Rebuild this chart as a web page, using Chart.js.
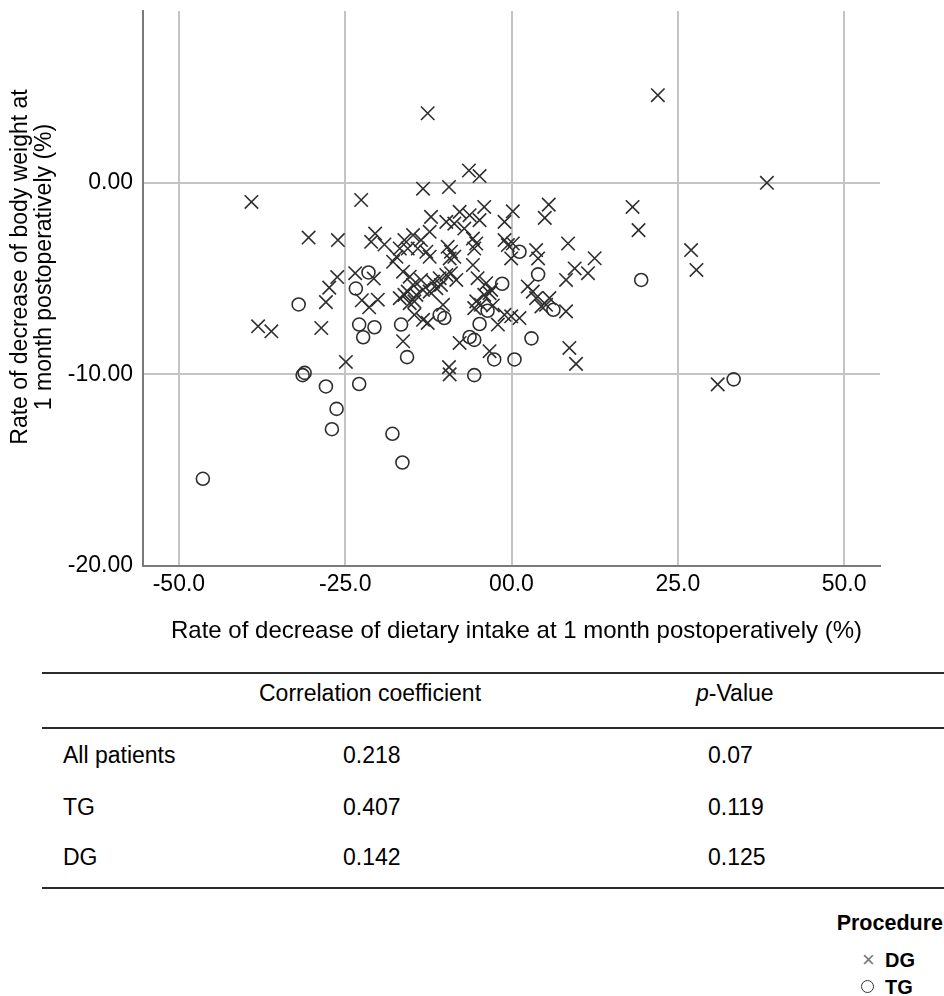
<!DOCTYPE html>
<html><head><meta charset="utf-8">
<script src="https://cdn.jsdelivr.net/npm/chart.js@4.4.1/dist/chart.umd.min.js"></script>
<style>
html,body{margin:0;padding:0;background:#fff;width:944px;height:996px;overflow:hidden;font-family:"Liberation Sans",Arial,sans-serif;color:#000;}
#wrap{position:absolute;left:0;top:0;width:944px;height:660px;}
.abs{position:absolute;white-space:nowrap;}
.rule{position:absolute;left:42px;width:902px;height:2px;background:#2b2b2b;}
.cell{position:absolute;font-size:23px;line-height:30px;height:30px;white-space:nowrap;}
#legend .t{font-weight:bold;}
</style></head><body>
<div id="wrap"><canvas id="c" width="944" height="660"></canvas></div>
<div id="table"></div>
<div id="legend"></div>
<script>
// ---- data ----
const xTickValues = [-50, -25, 0, 25, 50];
const xTickLabels = ["-50.0", "-25.0", "00.0", "25.0", "50.0"];
const yTickValues = [-20, -10, 0];
const yTickLabels = ["-20.00", "-10.00", "0.00"];
const xTitle = "Rate of decrease of dietary intake at 1 month postoperatively (%)";
const yTitleLines = ["Rate of decrease of body weight at", "1 month postoperatively (%)"];

const dgIntake = [-39.1,-22.6,-30.5,-26.1,-20.5,-21.1,-19.1,-26.2,-27.4,-23.5,-20.7,-27.9,-22.5,-21.4,-20.1,-17.8,-38.1,-36.1,-28.6,-24.9,
 -12.6,-6.4,-4.8,-13.3,-9.4,5.6,5.0,0.2,-1.05,-4.1,-4.8,-7.8,-6.3,-8.6,-7.1,-9.8,-12.1,-12.3,-14.8,-13.6,
 -16.1,-16.8,-15.6,-14.1,-12.8,-12.3,-9.6,-9.1,-8.6,-9.3,-5.8,-5.3,-5.6,-1.05,-0.55,0.2,-0.05,3.7,4.0,-17.3,
 -5.8,-16.3,-15.3,-14.8,-13.6,-15.6,-16.1,-14.3,-13.3,-11.8,-10.8,-9.8,-9.1,-8.3,-12.3,-11.3,-10.6,-16.8,-15.3,-14.6,
 -5.1,-3.8,-3.05,-4.1,-5.3,-5.6,-4.6,-3.3,-2.05,-1.05,-0.05,1.2,2.45,3.2,3.7,5.7,5.2,4.5,-3.3,-9.4,
 -9.3,-7.8,-16.3,-14.6,-13.3,-12.6,-10.3,8.2,8.7,9.7,31.0,22.0,38.4,18.2,19.1,27.0,27.8,8.5,12.5,9.5,
 11.5,8.2,-2.8];
const dgWeight = [-1.0,-0.9,-2.86,-2.99,-2.65,-3.08,-3.22,-4.92,-5.47,-4.72,-5.0,-6.23,-6.13,-6.5,-6.1,-4.12,-7.49,-7.75,-7.58,-9.35,
 3.63,0.64,0.35,-0.31,-0.22,-1.14,-1.83,-1.49,-2.04,-1.26,-1.95,-1.52,-1.69,-2.13,-2.39,-2.04,-1.78,-2.56,-2.73,-2.99,
 -2.99,-3.43,-3.43,-3.43,-3.6,-3.86,-3.34,-3.6,-3.86,-3.95,-2.91,-3.17,-3.43,-2.99,-3.25,-3.17,-3.95,-3.51,-3.95,-3.86,
 -4.29,-4.64,-4.9,-5.33,-5.07,-5.68,-5.85,-5.85,-5.59,-5.16,-4.98,-4.81,-4.72,-5.07,-5.68,-5.5,-5.33,-6.02,-6.28,-6.19,
 -4.98,-5.24,-5.59,-5.85,-6.19,-6.54,-6.37,-5.76,-7.4,-6.89,-6.97,-7.06,-5.41,-5.68,-6.02,-6.02,-6.37,-6.45,-8.79,-9.62,
 -10.0,-8.36,-8.27,-6.89,-7.15,-7.31,-6.37,-6.71,-8.62,-9.45,-10.52,4.57,0.0,-1.26,-2.47,-3.51,-4.55,-3.17,-3.94,-4.47,
 -4.72,-5.07,-6.4];

const tgIntake = [-21.5,-23.4,-32.0,-22.9,-20.6,-22.3,-31.4,-31.1,-27.9,-22.9,-26.3,-27.0,-17.9,-16.4,-46.4,-16.6,-15.7,
 -10.8,-10.1,-5.6,-3.6,-4.8,-6.3,-5.6,-2.6,0.45,3.0,6.3,1.2,4.0,-1.4,19.5,33.4];
const tgWeight = [-4.68,-5.52,-6.35,-7.4,-7.54,-8.06,-10.04,-9.92,-10.63,-10.5,-11.8,-12.86,-13.1,-14.6,-15.45,-7.4,-9.1,
 -6.89,-7.06,-10.04,-6.68,-7.37,-8.05,-8.2,-9.22,-9.22,-8.12,-6.63,-3.6,-4.78,-5.27,-5.07,-10.26];

const legendTitle = "Procedure";
const seriesNames = ["DG", "TG"];

const tableHeaders = ["Correlation coefficient", "p-Value"];
const rowLabels = ["All patients", "TG", "DG"];
const corrCoef = ["0.218", "0.407", "0.142"];
const pValues = ["0.07", "0.119", "0.125"];

// ---- chart ----
const FONT = '"Liberation Sans", Arial, sans-serif';
const toPts = (xs, ys) => xs.map((x, i) => ({x: x, y: ys[i]}));

const axisTitles = {
  id: 'axisTitles',
  afterDraw(chart) {
    const ctx = chart.ctx, ca = chart.chartArea;
    ctx.save();
    ctx.fillStyle = '#000';
    ctx.textAlign = 'center';
    ctx.textBaseline = 'middle';
    ctx.font = '24px ' + FONT;
    ctx.fillText(xTitle, (ca.left + ca.right) / 2 + 5, 631);
    ctx.font = '23px ' + FONT;
    ctx.translate(21, 267);
    ctx.rotate(-Math.PI / 2);
    ctx.fillText(yTitleLines[0], 0, 0);
    ctx.fillText(yTitleLines[1], 0, 24);
    ctx.restore();
  }
};

new Chart(document.getElementById('c'), {
  type: 'scatter',
  data: {
    datasets: [
      {label: seriesNames[0], data: toPts(dgIntake, dgWeight), pointStyle: 'crossRot', pointRadius: 9.5,
       borderColor: '#2e2e2e', backgroundColor: 'rgba(0,0,0,0)', pointBorderWidth: 1.6},
      {label: seriesNames[1], data: toPts(tgIntake, tgWeight), pointStyle: 'circle', pointRadius: 6.5,
       borderColor: '#2e2e2e', backgroundColor: 'rgba(0,0,0,0)', pointBorderWidth: 1.6}
    ]
  },
  options: {
    responsive: false, animation: false, devicePixelRatio: 1,
    layout: {padding: {top: 8, right: 64, left: 0, bottom: 0}},
    plugins: {legend: {display: false}, tooltip: {enabled: false}},
    scales: {
      x: {
        type: 'linear', min: -55.4, max: 55.4,
        afterBuildTicks: s => { s.ticks = xTickValues.map(v => ({value: v})); },
        afterFit: s => { s.height = 94; s.paddingLeft = 0; s.paddingRight = 0; },
        ticks: {callback: (v, i) => xTickLabels[i], color: '#000', font: {size: 23, family: FONT}, padding: 5, maxRotation: 0, autoSkip: false},
        grid: {color: '#c4c4c4', lineWidth: 2, drawTicks: false},
        border: {display: true, color: '#7a7a7a', width: 2}
      },
      y: {
        type: 'linear', min: -20, max: 8.96,
        afterBuildTicks: s => { s.ticks = yTickValues.map(v => ({value: v})); },
        afterFit: s => { s.width = 143; s.paddingTop = 0; s.paddingBottom = 0; },
        ticks: {callback: (v, i) => yTickLabels[i], color: '#000', font: {size: 23, family: FONT}, padding: 10, autoSkip: false},
        grid: {color: '#c4c4c4', lineWidth: 2, drawTicks: false},
        border: {display: true, color: '#7a7a7a', width: 2}
      }
    }
  },
  plugins: [axisTitles]
});

// ---- table ----
(function () {
  const t = document.getElementById('table');
  let h = '';
  [671.5, 727, 886.5].forEach(y => { h += '<div class="rule" style="top:' + y + 'px"></div>'; });
  const hdrY = 693;
  h += '<div class="cell" style="left:259px;top:' + (hdrY - 15) + 'px">' + tableHeaders[0] + '</div>';
  h += '<div class="cell" style="left:696px;top:' + (hdrY - 15) + 'px"><i>' + tableHeaders[1].split('-')[0] + '</i>-' + tableHeaders[1].split('-').slice(1).join('-') + '</div>';
  const rowY = [755, 806.5, 856.5];
  rowLabels.forEach((lab, i) => {
    h += '<div class="cell" style="left:63px;top:' + (rowY[i] - 15) + 'px">' + lab + '</div>';
    h += '<div class="cell" style="left:343px;top:' + (rowY[i] - 15) + 'px">' + corrCoef[i] + '</div>';
    h += '<div class="cell" style="left:708px;top:' + (rowY[i] - 15) + 'px">' + pValues[i] + '</div>';
  });
  t.innerHTML = h;
})();

// ---- legend ----
(function () {
  const l = document.getElementById('legend');
  let h = '';
  h += '<div class="abs t" style="right:1px;top:910px;font-size:21.5px;line-height:26px;">' + legendTitle + '</div>';
  h += '<div class="abs" style="left:862px;top:948px;font-size:22px;line-height:24px;color:#777;">&#215;</div>';
  h += '<div class="abs t" style="left:885px;top:948px;font-size:20px;line-height:24px;">' + seriesNames[0] + '</div>';
  h += '<div class="abs" style="left:861px;top:980px;width:11px;height:11px;border:1.6px solid #333;border-radius:50%;"></div>';
  h += '<div class="abs t" style="left:885px;top:975px;font-size:20px;line-height:24px;">' + seriesNames[1] + '</div>';
  l.innerHTML = h;
})();
</script>
</body></html>
